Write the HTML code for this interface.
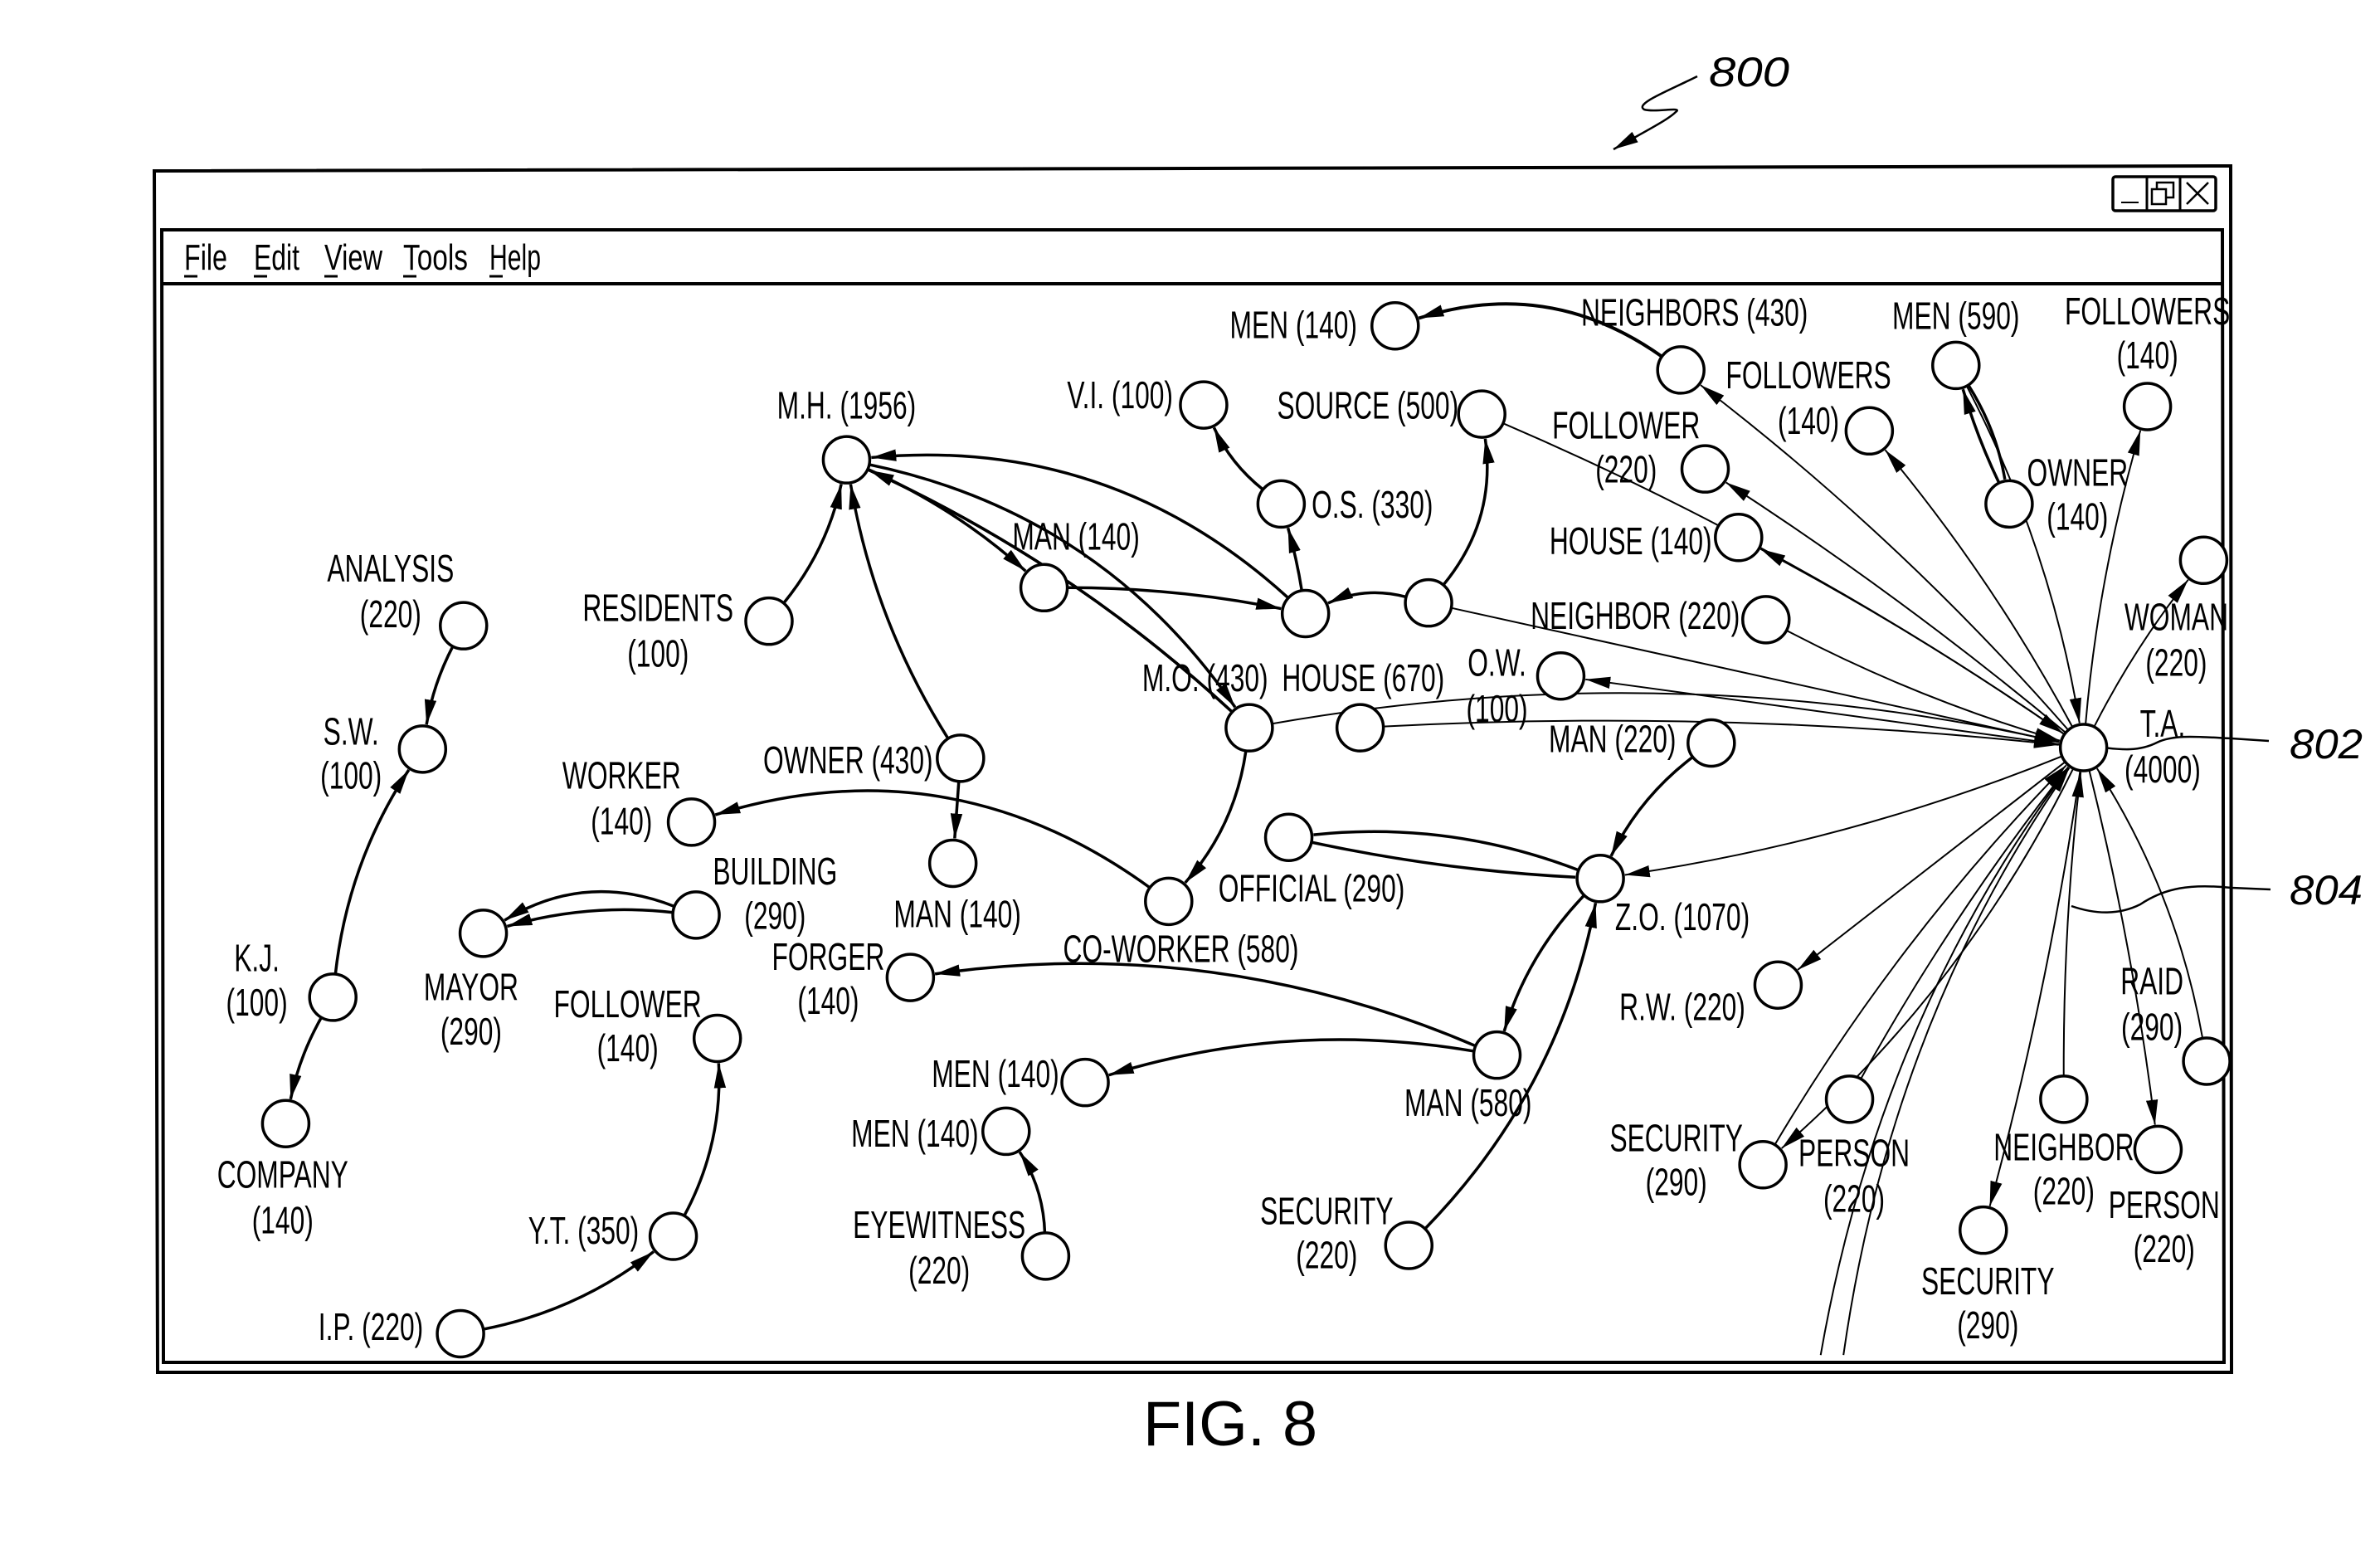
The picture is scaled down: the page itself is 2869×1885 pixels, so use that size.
<!DOCTYPE html>
<html><head><meta charset="utf-8"><style>
html,body{margin:0;padding:0;background:#fff;width:2869px;height:1885px;overflow:hidden}
svg{display:block}
text{font-family:"Liberation Sans",sans-serif;fill:#000}
</style></head><body>
<svg id="s" width="2869" height="1885" viewBox="0 0 2869 1885" xmlns="http://www.w3.org/2000/svg">
<defs>
<marker id="a" viewBox="0 0 10 10" refX="10" refY="5" markerWidth="30" markerHeight="30" markerUnits="userSpaceOnUse" orient="auto"><path d="M0,2.6 L10,5 L0,7.4z" fill="#000"/></marker>
</defs>
<g fill="none" stroke="#000">
<path d="M186,206 L2689,200 L2690,1654 L190,1654 Z" stroke-width="4"/>
<path d="M195,277 L2679,277 L2681,1642 L197,1642 Z" stroke-width="4"/>
<line x1="195" y1="342" x2="2679" y2="342" stroke-width="4"/>
<rect x="2547" y="213" width="124" height="41" rx="3" stroke-width="3.5"/>
<line x1="2588" y1="213" x2="2588" y2="254" stroke-width="3"/>
<line x1="2628" y1="213" x2="2628" y2="254" stroke-width="3"/>
<line x1="2557" y1="244" x2="2578" y2="244" stroke-width="2"/>
<rect x="2594" y="228" width="17" height="18" stroke-width="2.5"/>
<path d="M2600,228 V220 H2620 V238 H2611" stroke-width="2.5"/>
<path d="M2636,220 L2662,246 M2662,220 L2636,246" stroke-width="2.5"/>
<path d="M2046,92 C2010,110 1970,125 1982,132 C1995,136 2030,128 2020,135 C2010,145 1980,160 1945,180" stroke-width="2.5" marker-end="url(#a)"/>
<path d="M2522,899 C2560,905 2580,905 2600,895 C2620,885 2650,888 2690,890 L2735,893" stroke-width="2.5"/>
<path d="M2497,1092 C2520,1100 2550,1105 2580,1090 C2610,1070 2640,1065 2690,1070 L2737,1072" stroke-width="2.5"/>
</g>
<g id="edges" fill="none" stroke="#000"></g>
<g id="nodes" fill="#fff" stroke="#000" stroke-width="3.5"></g>
<g id="labels" font-size="46"></g>
<text x="2060" y="104" font-size="50" font-style="italic" textLength="97" lengthAdjust="spacingAndGlyphs">800</text>
<text x="2760" y="914" font-size="50" font-style="italic" textLength="88" lengthAdjust="spacingAndGlyphs">802</text>
<text x="2760" y="1090" font-size="50" font-style="italic" textLength="88" lengthAdjust="spacingAndGlyphs">804</text>
<text x="1378" y="1742" font-size="76" textLength="210" lengthAdjust="spacingAndGlyphs">FIG. 8</text>
<g font-size="44">
<text x="222" y="325" textLength="52" lengthAdjust="spacingAndGlyphs">File</text>
<text x="306" y="325" textLength="55" lengthAdjust="spacingAndGlyphs">Edit</text>
<text x="391" y="325" textLength="70" lengthAdjust="spacingAndGlyphs">View</text>
<text x="486" y="325" textLength="78" lengthAdjust="spacingAndGlyphs">Tools</text>
<text x="590" y="325" textLength="62" lengthAdjust="spacingAndGlyphs">Help</text>
</g>
<g stroke="#000" stroke-width="3">
<line x1="222" y1="333" x2="238" y2="333"/><line x1="306" y1="333" x2="322" y2="333"/><line x1="391" y1="333" x2="407" y2="333"/><line x1="486" y1="333" x2="502" y2="333"/><line x1="590" y1="333" x2="606" y2="333"/>
</g>
</svg>
<script>
var SX=1.832,SY=1.835;
function P(x,y){return [x*SX,y*SY];}
var N={
MEN1:[918,214],NBRS:[1106,243],MEN590:[1287,240],FOLS1:[1413,267],FOLS2:[1230,283],FOL220:[1122,308],OWN140:[1322,331],
SRC:[975,272],VI:[792,266],MH:[557,302],OS:[843,331],HOUSE140:[1144,353],MAN140:[687,386],WOMAN:[1450,368],
ANA:[305,411],RES:[506,408],U1:[859,403],U2:[940,396],NBR220:[1162,407],OW:[1027,444],MO:[822,478],H670:[895,478],
TA:[1371,491],MAN220:[1126,488],SW:[278,492],OWN430:[632,498],WORK:[455,540],OFF:[848,550],MAN140b:[627,567],
ZO:[1053,577],BLD:[458,601],MAYOR:[318,613],COW:[769,592],FORG:[599,642],KJ:[219,655],RW:[1170,647],RAID:[1452,697],
FOL140:[472,682],MAN580:[985,693],MEN140a:[714,711],MEN140b:[662,743],COMP:[188,738],SEC290:[1160,765],PER1:[1217,722],
NBR2:[1358,722],PER2:[1420,755],SEC290b:[1305,808],EYE:[688,825],YT:[443,812],SEC220:[927,818],IP:[303,876]};
for(var k in N){N[k]=P(N[k][0],N[k][1]);}
var R=28;
var L=[
["MEN (140)",893,222,"end"],["NEIGHBORS (430)",1115,214,"middle"],["MEN (590)",1287,216,"middle"],
["FOLLOWERS",1413,213,"middle"],["(140)",1413,242,"middle"],["FOLLOWERS",1190,255,"middle"],["(140)",1190,285,"middle"],
["FOLLOWER",1070,288,"middle"],["(220)",1070,317,"middle"],["OWNER",1367,319,"middle"],["(140)",1367,348,"middle"],
["SOURCE (500)",900,275,"middle"],["V.I. (100)",737,268,"middle"],["M.H. (1956)",557,275,"middle"],["O.S. (330)",903,340,"middle"],
["HOUSE (140)",1073,364,"middle"],["MAN (140)",708,361,"middle"],["WOMAN",1432,414,"middle"],["(220)",1432,444,"middle"],
["ANALYSIS",257,382,"middle"],["(220)",257,412,"middle"],["RESIDENTS",433,408,"middle"],["(100)",433,438,"middle"],
["NEIGHBOR (220)",1076,413,"middle"],["O.W.",985,444,"middle"],["(100)",985,474,"middle"],["M.O. (430)",793,454,"middle"],
["HOUSE (670)",897,454,"middle"],["T.A.",1423,484,"middle"],["(4000)",1423,514,"middle"],["MAN (220)",1061,494,"middle"],
["S.W.",231,489,"middle"],["(100)",231,518,"middle"],["OWNER (430)",558,508,"middle"],["WORKER",409,518,"middle"],["(140)",409,548,"middle"],
["OFFICIAL (290)",863,592,"middle"],["MAN (140)",630,609,"middle"],["Z.O. (1070)",1107,611,"middle"],["BUILDING",510,581,"middle"],["(290)",510,610,"middle"],
["MAYOR",310,657,"middle"],["(290)",310,686,"middle"],["CO-WORKER (580)",777,632,"middle"],["FORGER",545,637,"middle"],["(140)",545,666,"middle"],
["K.J.",169,638,"middle"],["(100)",169,667,"middle"],["R.W. (220)",1107,670,"middle"],["RAID",1416,653,"middle"],["(290)",1416,683,"middle"],
["FOLLOWER",413,668,"middle"],["(140)",413,697,"middle"],["MAN (580)",966,733,"middle"],["MEN (140)",655,714,"middle"],["MEN (140)",602,753,"middle"],
["COMPANY",186,780,"middle"],["(140)",186,810,"middle"],["SECURITY",1103,756,"middle"],["(290)",1103,785,"middle"],["PERSON",1220,766,"middle"],["(220)",1220,796,"middle"],
["NEIGHBOR",1358,762,"middle"],["(220)",1358,791,"middle"],["PERSON",1424,800,"middle"],["(220)",1424,829,"middle"],
["SECURITY",1308,850,"middle"],["(290)",1308,879,"middle"],["EYEWITNESS",618,813,"middle"],["(220)",618,843,"middle"],
["Y.T. (350)",384,817,"middle"],["SECURITY",873,804,"middle"],["(220)",873,833,"middle"],["I.P. (220)",244,880,"middle"]];
var E=[
["NBRS","MEN1",25,1,4],["RES","MH",12,1,3.5],["U1","MH",22,1,3.5],["MH","MAN140",-8,1,3.5],["MAN140","U1",-5,1,3.5],
["MH","MO",-20,1,3.5],["MH","MO",-8,0,3.5],["MO","MH",8,1,3.5],["OWN430","MH",-10,1,3.5],
["U2","U1",18,1,3.5],["U2","SRC",22,1,3.5],["OS","VI",-12,1,3.5],["U1","OS",3,1,3.5],["MO","COW",-15,1,3.5],
["COW","WORK",25,1,3.5],["OWN430","MAN140b",0,1,3.5],["BLD","MAYOR",25,1,3.5],["BLD","MAYOR",10,1,3.5],
["ANA","SW",8,1,3.5],["KJ","SW",-12,1,3.5],["KJ","COMP",8,1,3.5],["IP","YT",12,1,3.5],["YT","FOL140",14,1,3.5],
["EYE","MEN140b",14,1,3.5],["MAN580","MEN140a",12,1,3.5],["MAN580","FORG",14,1,3.5],["ZO","MAN580",12,1,3.5],
["SEC220","ZO",15,1,3.5],["MAN220","ZO",12,1,3.5],["ZO","OFF",12,0,3.5],["OFF","ZO",4,0,3.5],["MEN590","OWN140",-10,0,3.5],["OWN140","MEN590",-4,1,3.5],
["TA","NBRS",5,1,2],["TA","FOLS2",5,1,2],["TA","FOL220",3,1,2],["TA","HOUSE140",3,1,2],["TA","FOLS1",-5,1,2],["TA","WOMAN",-5,1,2],
["SRC","TA",-5,1,2],["U2","TA",0,1,2],["NBR220","TA",5,1,2],["TA","OW",0,1,2],["H670","TA",-4,1,2],["MO","TA",-10,1,2],
["MEN590","TA",-8,1,2],["TA","ZO",-6,1,2],["TA","RW",0,1,2],["TA","SEC290",-10,1,2],["SEC290","TA",-6,1,2],["PER1","TA",-4,1,2],
["NBR2","TA",-3,1,2],["TA","PER2",-3,1,2],["TA","SEC290b",-3,1,2],["RAID","TA",10,1,2]];
var eg=document.getElementById("edges"),ng=document.getElementById("nodes"),lg=document.getElementById("labels");
var NS="http://www.w3.org/2000/svg";
function addEdge(a,b,bend,arr,w){
 var dx=b[0]-a[0],dy=b[1]-a[1],d=Math.hypot(dx,dy);
 var mx=(a[0]+b[0])/2,my=(a[1]+b[1])/2,px=-dy/d,py=dx/d,bb=bend/100*d;
 var cx=mx+px*bb,cy=my+py*bb;
 var u=[a[0]-cx,a[1]-cy],ul=Math.hypot(u[0],u[1]);
 var v=[b[0]-cx,b[1]-cy],vl=Math.hypot(v[0],v[1]);
 var s=[a[0]-u[0]/ul*R,a[1]-u[1]/ul*R],e=[b[0]-v[0]/vl*(R+2),b[1]-v[1]/vl*(R+2)];
 var p=document.createElementNS(NS,"path");
 p.setAttribute("d","M"+s[0]+","+s[1]+" Q"+cx+","+cy+" "+e[0]+","+e[1]);
 p.setAttribute("stroke-width",w);
 if(arr){p.setAttribute("marker-end","url(#a)");}
 eg.appendChild(p);
}
E.forEach(function(e){addEdge(N[e[0]],N[e[1]],e[2],e[3],e[4]);});
[[1198,890,-12],[1213,890,-12]].forEach(function(q){var a=P(q[0],q[1]);var b=N.TA;
 var dx=b[0]-a[0],dy=b[1]-a[1],d=Math.hypot(dx,dy);var cx=(a[0]+b[0])/2-dy/d*q[2]/100*d,cy=(a[1]+b[1])/2+dx/d*q[2]/100*d;
 var p=document.createElementNS(NS,"path");var v=[b[0]-cx,b[1]-cy],vl=Math.hypot(v[0],v[1]);
 p.setAttribute("d","M"+a[0]+","+a[1]+" Q"+cx+","+cy+" "+(b[0]-v[0]/vl*(R+2))+","+(b[1]-v[1]/vl*(R+2)));
 p.setAttribute("stroke-width",2);p.setAttribute("marker-end","url(#a)");eg.appendChild(p);});
for(var k in N){var c=document.createElementNS(NS,"circle");c.setAttribute("cx",N[k][0]);c.setAttribute("cy",N[k][1]);c.setAttribute("r",R);ng.appendChild(c);}
L.forEach(function(l){var t=document.createElementNS(NS,"text");var p=P(l[1],l[2]);
 t.setAttribute("x",p[0]);t.setAttribute("y",p[1]);t.setAttribute("text-anchor",l[3]);t.textContent=l[0];lg.appendChild(t);
 var w=t.getComputedTextLength();t.setAttribute("textLength",w*0.69);t.setAttribute("lengthAdjust","spacingAndGlyphs");});
</script>
</body></html>
